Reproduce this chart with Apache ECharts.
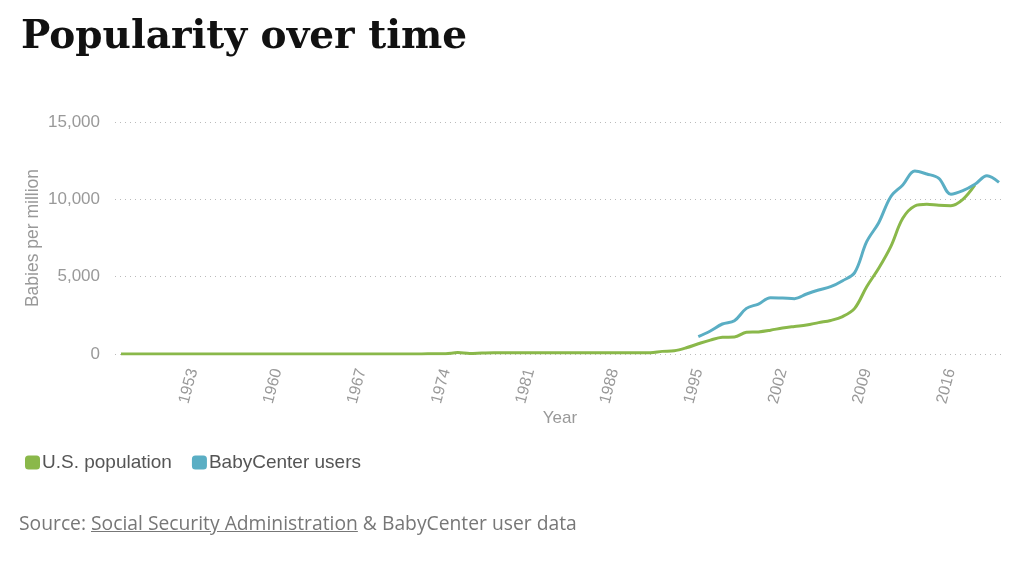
<!DOCTYPE html>
<html>
<head>
<meta charset="utf-8">
<script src="https://cdn.jsdelivr.net/npm/echarts@6/dist/echarts.min.js"></script>
<style>
  html, body { margin: 0; padding: 0; background: #fff; }
  #wrap { position: relative; width: 1024px; height: 562px; }
  #chart { position: absolute; left: 0; top: 0; width: 1024px; height: 562px; }
  #source { position: absolute; left: 19px; top: 509px; font-family: "Open Sans", sans-serif; font-size: 19.3px; color: #777; white-space: nowrap; }
  #source a { color: #777; text-decoration: underline; }
</style>
</head>
<body>
<div id="wrap">
  <div id="chart"></div>
  <div id="source">Source: <a>Social Security Administration</a> &amp; BabyCenter user data</div>
</div>
<script>
// Years 1947..2020
const years = [];
for (let y = 1947; y <= 2020; y++) years.push(String(y));

// U.S. population (babies per million), 1947..2018
const usEarly = [5,5,5,5,5,5,5,5,5,5,5,5,5,5,5,5,5,5,5,5,5,5,5,5,5,8,10]; // 1947..1973
const usMid = [20,90,35,60,80,80,80,80,80,80,80,80,80,80,80,80,85,85]; // 1974..1991
const usLate = [170,210,400,660,900,1080,1100,1400,1430,1540,1680,1780,1870,2030,2170,2420,2950,4350,5540,6940,8770,9570,9680,9610,9590,10000,10930]; // 1992..2018
const usPopulation = usEarly.concat(usMid, usLate, [null, null]);

// BabyCenter users, 1995..2020
const bcValues = [1120,1490,1940,2150,2950,3230,3640,3620,3580,3880,4140,4350,4740,5260,7260,8490,10170,10930,11830,11640,11360,10330,10560,10970,11530,11100];
const babyCenter = new Array(1995 - 1947).fill(null).concat(bcValues);

const yTicks = [0, 5000, 10000, 15000];

const chart = echarts.init(document.getElementById('chart'));
chart.setOption({
  animation: false,
  backgroundColor: '#fff',
  title: {
    text: 'Popularity over time',
    left: 16,
    top: 13,
    textStyle: { fontFamily: 'DejaVu Serif', fontWeight: 'bold', fontSize: 39, color: '#111' }
  },
  legend: {
    left: 20,
    top: 448,
    icon: 'roundRect',
    itemWidth: 15,
    itemHeight: 14,
    itemGap: 20,
    textStyle: { fontFamily: 'Liberation Sans', fontSize: 19, color: '#555', padding: [0, 0, 0, -3] },
    data: ['U.S. population', 'BabyCenter users']
  },
  grid: { left: 115, right: 19, top: 122, bottom: 208, containLabel: false },
  xAxis: {
    type: 'category',
    data: years,
    boundaryGap: true,
    name: 'Year',
    nameLocation: 'middle',
    nameGap: 56,
    nameMoveOverlap: false,
    nameTextStyle: { fontFamily: 'Liberation Sans', fontSize: 17, color: '#999' },
    axisLine: { show: false },
    axisTick: { show: false },
    axisLabel: {
      rotate: 75,
      margin: 15,
      fontFamily: 'Liberation Sans',
      fontSize: 16,
      color: '#999',
      interval: function (idx, val) { return (Number(val) - 1953) % 7 === 0 && Number(val) >= 1953; }
    }
  },
  yAxis: {
    type: 'value',
    min: 0,
    max: yTicks[yTicks.length - 1],
    interval: 5000,
    name: 'Babies per million',
    nameLocation: 'middle',
    nameGap: 73,
    nameMoveOverlap: false,
    nameTextStyle: { fontFamily: 'Liberation Sans', fontSize: 17.5, color: '#999' },
    axisLine: { show: false },
    axisTick: { show: false },
    axisLabel: {
      margin: 15,
      fontFamily: 'Liberation Sans',
      fontSize: 17,
      color: '#999',
      formatter: function (v) { return v.toLocaleString('en-US'); }
    },
    splitLine: { lineStyle: { color: '#bbb', type: [1, 4], width: 1 } }
  },
  series: [
    {
      name: 'U.S. population',
      type: 'line',
      data: usPopulation,
      smooth: 0.35,
      showSymbol: false,
      symbol: 'none',
      itemStyle: { color: '#8ab84a' },
      lineStyle: { color: '#8ab84a', width: 3 }
    },
    {
      name: 'BabyCenter users',
      type: 'line',
      data: babyCenter,
      smooth: 0.35,
      showSymbol: false,
      symbol: 'none',
      itemStyle: { color: '#5aaec4' },
      lineStyle: { color: '#5aaec4', width: 3 }
    }
  ]
});
</script>
</body>
</html>
